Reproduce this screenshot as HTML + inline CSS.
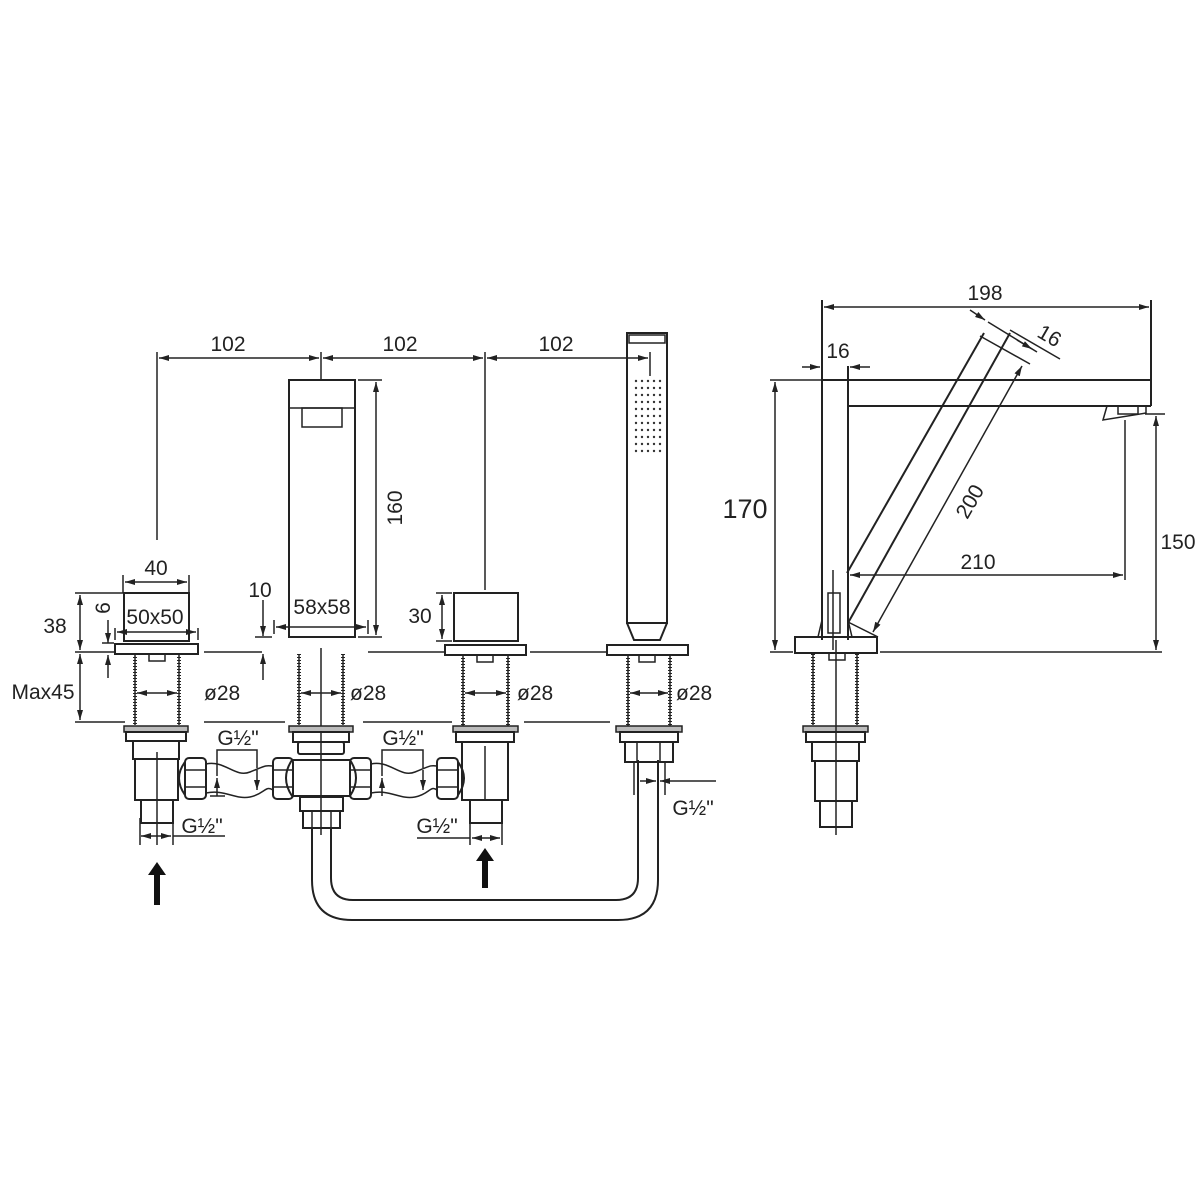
<!DOCTYPE html>
<html><head><meta charset="utf-8"><style>
html,body{margin:0;padding:0;background:#fff;}
svg{display:block;}
text{font-family:"Liberation Sans",Arial,sans-serif;fill:#222;}
</style></head><body>
<svg width="1200" height="1200" viewBox="0 0 1200 1200" xmlns="http://www.w3.org/2000/svg">
<defs>
<marker id="a" viewBox="0 0 10 6" refX="10" refY="3" markerWidth="16" markerHeight="6" markerUnits="userSpaceOnUse" orient="auto-start-reverse"><path d="M0,0 L10,3 L0,6 Z" fill="#222"/></marker>
<g id="thread">
<line x1="0" y1="0" x2="0" y2="71" stroke="#222" stroke-width="1.5"/>
<line x1="0" y1="0" x2="0" y2="71" stroke="#222" stroke-width="4" stroke-dasharray="1 2"/>
</g>
</defs>
<g fill="none" stroke="#222" stroke-width="2">

<line x1="157" y1="352" x2="157" y2="540" stroke-width="1.5"/>
<line x1="321" y1="352" x2="321" y2="380" stroke-width="1.5"/>
<line x1="485" y1="352" x2="485" y2="590" stroke-width="1.5"/>
<line x1="650" y1="352" x2="650" y2="376" stroke-width="1.5"/>
<line x1="159" y1="358" x2="319" y2="358" stroke-width="1.5" marker-start="url(#a)" marker-end="url(#a)"/>
<line x1="323" y1="358" x2="483" y2="358" stroke-width="1.5" marker-start="url(#a)" marker-end="url(#a)"/>
<line x1="487" y1="358" x2="648" y2="358" stroke-width="1.5" marker-start="url(#a)" marker-end="url(#a)"/>

<rect x="289" y="380" width="66" height="257"/>
<line x1="289" y1="408" x2="355" y2="408" stroke-width="1.5"/>
<rect x="302" y="408" width="40" height="19" stroke-width="1.5"/>
<line x1="358" y1="380" x2="382" y2="380" stroke-width="1.5"/>
<line x1="358" y1="637" x2="382" y2="637" stroke-width="1.5"/>
<line x1="376" y1="382" x2="376" y2="635" stroke-width="1.5" marker-start="url(#a)" marker-end="url(#a)"/>
<line x1="276" y1="627" x2="366" y2="627" stroke-width="1.5" marker-start="url(#a)" marker-end="url(#a)"/>
<line x1="274" y1="620" x2="274" y2="634" stroke-width="1.5"/>
<line x1="368" y1="620" x2="368" y2="634" stroke-width="1.5"/>
<line x1="263" y1="600" x2="263" y2="636" stroke-width="1.5" marker-end="url(#a)"/>
<line x1="263" y1="680" x2="263" y2="654" stroke-width="1.5" marker-end="url(#a)"/>
<line x1="255" y1="637" x2="272" y2="637" stroke-width="1.5"/>

<rect x="627" y="333" width="40" height="290"/>
<rect x="629" y="335" width="36" height="8" stroke-width="1.5"/>
<path d="M627,623 L634,640 L660,640 L667,623"/>

<rect x="124" y="593" width="65" height="48"/>
<rect x="115" y="644" width="83" height="10"/>
<rect x="149" y="654" width="16" height="7" stroke-width="1.5"/>
<use href="#thread" x="135" y="654"/><use href="#thread" x="179" y="654"/>
<rect x="124" y="726" width="64" height="6" stroke-width="1.5" fill="#bbb"/>
<rect x="126" y="732" width="60" height="9"/>
<rect x="133" y="741" width="46" height="18"/>
<rect x="135" y="759" width="43" height="41"/>
<rect x="141" y="800" width="32" height="23"/>
<line x1="157" y1="752" x2="157" y2="845" stroke-width="1.5"/>
<line x1="140" y1="818" x2="140" y2="845" stroke-width="1.5"/>
<line x1="173" y1="818" x2="173" y2="845" stroke-width="1.5"/>
<line x1="141" y1="836" x2="171" y2="836" stroke-width="1.5" marker-start="url(#a)" marker-end="url(#a)"/>
<line x1="173" y1="836" x2="225" y2="836" stroke-width="1.5"/>
<line x1="137" y1="693" x2="177" y2="693" stroke-width="1.5" marker-start="url(#a)" marker-end="url(#a)"/>
<line x1="123" y1="575" x2="123" y2="593" stroke-width="1.5"/>
<line x1="189" y1="575" x2="189" y2="593" stroke-width="1.5"/>
<line x1="125" y1="582" x2="187" y2="582" stroke-width="1.5" marker-start="url(#a)" marker-end="url(#a)"/>
<line x1="115" y1="628" x2="115" y2="640" stroke-width="1.5"/>
<line x1="198" y1="628" x2="198" y2="640" stroke-width="1.5"/>
<line x1="117" y1="632" x2="196" y2="632" stroke-width="1.5" marker-start="url(#a)" marker-end="url(#a)"/>
<line x1="75" y1="593" x2="123" y2="593" stroke-width="1.5"/>
<line x1="75" y1="652" x2="115" y2="652" stroke-width="1.5"/>
<line x1="75" y1="722" x2="125" y2="722" stroke-width="1.5"/>
<line x1="80" y1="595" x2="80" y2="650" stroke-width="1.5" marker-start="url(#a)" marker-end="url(#a)"/>
<line x1="80" y1="654" x2="80" y2="720" stroke-width="1.5" marker-start="url(#a)" marker-end="url(#a)"/>
<line x1="108" y1="620" x2="108" y2="643" stroke-width="1.5" marker-end="url(#a)"/>
<line x1="108" y1="678" x2="108" y2="655" stroke-width="1.5" marker-end="url(#a)"/>
<line x1="102" y1="643" x2="114" y2="643" stroke-width="1.5"/>

<line x1="204" y1="652" x2="262" y2="652" stroke-width="1.5"/>
<line x1="368" y1="652" x2="445" y2="652" stroke-width="1.5"/>
<line x1="530" y1="652" x2="607" y2="652" stroke-width="1.5"/>
<line x1="204" y1="722" x2="285" y2="722" stroke-width="1.5"/>
<line x1="363" y1="722" x2="452" y2="722" stroke-width="1.5"/>
<line x1="524" y1="722" x2="610" y2="722" stroke-width="1.5"/>

<use href="#thread" x="299" y="654"/><use href="#thread" x="343" y="654"/>
<line x1="321" y1="648" x2="321" y2="835" stroke-width="1.5"/>
<line x1="301" y1="693" x2="341" y2="693" stroke-width="1.5" marker-start="url(#a)" marker-end="url(#a)"/>
<rect x="289" y="726" width="64" height="6" stroke-width="1.5" fill="#bbb"/>
<rect x="293" y="732" width="56" height="10"/>
<rect x="298" y="742" width="46" height="12" rx="2"/>
<path d="M292,760 Q280,778 292,796 L350,796 Q362,778 350,760 Z"/>
<line x1="292" y1="760" x2="350" y2="760"/>
<rect x="300" y="797" width="43" height="14"/>
<rect x="303" y="811" width="37" height="17"/>
<line x1="312" y1="811" x2="312" y2="828" stroke-width="1.5"/><line x1="331" y1="811" x2="331" y2="828" stroke-width="1.5"/>
<rect x="185" y="758" width="21" height="41" rx="4"/>
<line x1="185" y1="770" x2="206" y2="770" stroke-width="1.5"/><line x1="185" y1="787" x2="206" y2="787" stroke-width="1.5"/>
<path d="M185,762 Q173,778 185,795"/>
<rect x="273" y="758" width="20" height="41" rx="4"/>
<line x1="273" y1="770" x2="293" y2="770" stroke-width="1.5"/><line x1="273" y1="787" x2="293" y2="787" stroke-width="1.5"/>
<rect x="350" y="758" width="21" height="41" rx="4"/>
<line x1="350" y1="770" x2="371" y2="770" stroke-width="1.5"/><line x1="350" y1="787" x2="371" y2="787" stroke-width="1.5"/>
<rect x="437" y="758" width="21" height="41" rx="4"/>
<line x1="437" y1="770" x2="458" y2="770" stroke-width="1.5"/><line x1="437" y1="787" x2="458" y2="787" stroke-width="1.5"/>
<path d="M458,762 Q470,778 458,795"/>
<path d="M206,764 C225,760 235,778 250,772 S265,765 273,766" stroke-width="1.5"/>
<path d="M206,793 C225,789 235,800 250,797 S265,785 273,790" stroke-width="1.5"/>
<path d="M371,764 C390,760 400,778 415,772 S430,765 437,766" stroke-width="1.5"/>
<path d="M371,793 C390,789 400,800 415,797 S430,785 437,790" stroke-width="1.5"/>
<path d="M217,776 L217,750 L257,750 L257,768" stroke-width="1.5"/>
<line x1="217" y1="778" x2="217" y2="796" stroke-width="1.5" marker-start="url(#a)"/>
<line x1="257" y1="770" x2="257" y2="790" stroke-width="1.5" marker-end="url(#a)"/>
<line x1="210" y1="796" x2="225" y2="796" stroke-width="1.5"/>
<path d="M382,776 L382,750 L423,750 L423,768" stroke-width="1.5"/>
<line x1="382" y1="778" x2="382" y2="796" stroke-width="1.5" marker-start="url(#a)"/>
<line x1="423" y1="770" x2="423" y2="790" stroke-width="1.5" marker-end="url(#a)"/>

<path d="M312,828 L312,880 Q312,920 352,920 L618,920 Q658,920 658,880 L658,760"/>
<path d="M331,828 L331,878 Q331,900 353,900 L616,900 Q638,900 638,878 L638,760"/>

<rect x="454" y="593" width="64" height="48"/>
<rect x="445" y="645" width="81" height="10"/>
<rect x="477" y="655" width="16" height="7" stroke-width="1.5"/>
<use href="#thread" x="463" y="655"/><use href="#thread" x="508" y="655"/>
<line x1="465" y1="693" x2="506" y2="693" stroke-width="1.5" marker-start="url(#a)" marker-end="url(#a)"/>
<line x1="436" y1="593" x2="452" y2="593" stroke-width="1.5"/>
<line x1="436" y1="641" x2="452" y2="641" stroke-width="1.5"/>
<line x1="442" y1="595" x2="442" y2="639" stroke-width="1.5" marker-start="url(#a)" marker-end="url(#a)"/>
<rect x="453" y="726" width="65" height="6" stroke-width="1.5" fill="#bbb"/>
<rect x="456" y="732" width="58" height="10"/>
<rect x="462" y="742" width="46" height="58"/>
<line x1="485" y1="746" x2="485" y2="800" stroke-width="1.5"/>
<rect x="470" y="800" width="32" height="23"/>
<line x1="470" y1="818" x2="470" y2="845" stroke-width="1.5"/>
<line x1="502" y1="818" x2="502" y2="845" stroke-width="1.5"/>
<line x1="417" y1="838" x2="470" y2="838" stroke-width="1.5"/>
<line x1="472" y1="838" x2="500" y2="838" stroke-width="1.5" marker-start="url(#a)" marker-end="url(#a)"/>

<rect x="607" y="645" width="81" height="10"/>
<rect x="639" y="655" width="16" height="7" stroke-width="1.5"/>
<use href="#thread" x="628" y="655"/><use href="#thread" x="670" y="655"/>
<line x1="630" y1="693" x2="668" y2="693" stroke-width="1.5" marker-start="url(#a)" marker-end="url(#a)"/>
<rect x="616" y="726" width="66" height="6" stroke-width="1.5" fill="#bbb"/>
<rect x="620" y="732" width="58" height="10"/>
<rect x="625" y="742" width="48" height="20"/>
<line x1="637" y1="742" x2="637" y2="762" stroke-width="1.5"/><line x1="660" y1="742" x2="660" y2="762" stroke-width="1.5"/>
<line x1="634" y1="762" x2="634" y2="795" stroke-width="1.5"/>
<line x1="665" y1="762" x2="665" y2="795" stroke-width="1.5"/>
<line x1="640" y1="781" x2="656" y2="781" stroke-width="1.5" marker-end="url(#a)"/>
<line x1="716" y1="781" x2="660" y2="781" stroke-width="1.5" marker-end="url(#a)"/>

<line x1="822" y1="300" x2="822" y2="640"/>
<line x1="848" y1="366" x2="848" y2="640"/>
<line x1="848" y1="380" x2="1151" y2="380"/>
<line x1="848" y1="406" x2="1151" y2="406"/>
<line x1="1151" y1="300" x2="1151" y2="406"/>
<line x1="822" y1="380" x2="848" y2="380"/>
<path d="M1107,406 L1103,420 L1146,413 L1146,406" stroke-width="1.5"/>
<rect x="1118" y="406" width="20" height="8" stroke-width="1.5"/>
<line x1="824" y1="307" x2="1149" y2="307" stroke-width="1.5" marker-start="url(#a)" marker-end="url(#a)"/>
<line x1="802" y1="367" x2="820" y2="367" stroke-width="1.5" marker-end="url(#a)"/>
<line x1="870" y1="367" x2="850" y2="367" stroke-width="1.5" marker-end="url(#a)"/>
<line x1="984" y1="333" x2="847" y2="573"/>
<line x1="1010" y1="333" x2="848" y2="623"/>
<line x1="1022" y1="366" x2="873" y2="632" stroke-width="1.5" marker-start="url(#a)" marker-end="url(#a)"/>
<line x1="988" y1="322" x2="1037" y2="352" stroke-width="1.5"/>
<line x1="980" y1="336" x2="1030" y2="364" stroke-width="1.5"/>
<line x1="1010" y1="330" x2="1060" y2="359" stroke-width="1.5"/>
<line x1="970" y1="310" x2="985" y2="320" stroke-width="1.5" marker-end="url(#a)"/>
<line x1="1032" y1="349" x2="1017" y2="340" stroke-width="1.5" marker-start="url(#a)"/>
<line x1="833" y1="570" x2="833" y2="650" stroke-width="1.5"/>
<line x1="850" y1="575" x2="1123" y2="575" stroke-width="1.5" marker-start="url(#a)" marker-end="url(#a)"/>
<line x1="1125" y1="420" x2="1125" y2="580" stroke-width="1.5"/>
<rect x="828" y="593" width="12" height="40" stroke-width="1.5"/>
<path d="M822,620 L818,637 M848,620 L852,637 M848,622 L878,637" stroke-width="1.5"/>
<rect x="795" y="637" width="82" height="16"/>
<line x1="880" y1="652" x2="1162" y2="652" stroke-width="1.5"/>
<line x1="770" y1="380" x2="822" y2="380" stroke-width="1.5"/>
<line x1="770" y1="652" x2="793" y2="652" stroke-width="1.5"/>
<line x1="775" y1="382" x2="775" y2="650" stroke-width="1.5" marker-start="url(#a)" marker-end="url(#a)"/>
<line x1="1145" y1="414" x2="1165" y2="414" stroke-width="1.5"/>
<line x1="1156" y1="416" x2="1156" y2="650" stroke-width="1.5" marker-start="url(#a)" marker-end="url(#a)"/>
<rect x="829" y="653" width="16" height="7" stroke-width="1.5"/>
<use href="#thread" x="813" y="654"/><use href="#thread" x="857" y="654"/>
<rect x="803" y="726" width="65" height="6" stroke-width="1.5" fill="#bbb"/>
<rect x="806" y="732" width="59" height="10"/>
<rect x="812" y="742" width="47" height="19"/>
<rect x="815" y="761" width="42" height="40"/>
<rect x="820" y="801" width="32" height="26"/>
<line x1="836" y1="640" x2="836" y2="835" stroke-width="1.5"/>
</g>
<g fill="#333">
<g id="row"><circle cx="636" cy="381" r="1.2"/><circle cx="642" cy="381" r="1.2"/><circle cx="648" cy="381" r="1.2"/><circle cx="654" cy="381" r="1.2"/><circle cx="660" cy="381" r="1.2"/></g>
<use href="#row" y="7"/><use href="#row" y="14"/><use href="#row" y="21"/><use href="#row" y="28"/><use href="#row" y="35"/><use href="#row" y="42"/><use href="#row" y="49"/><use href="#row" y="56"/><use href="#row" y="63"/><use href="#row" y="70"/>
</g>
<path d="M157,862 L148,875 L154,875 L154,905 L160,905 L160,875 L166,875 Z" fill="#111"/>
<path d="M485,848 L476,861 L482,861 L482,888 L488,888 L488,861 L494,861 Z" fill="#111"/>

<g font-size="21">
<text x="228" y="351" text-anchor="middle">102</text>
<text x="400" y="351" text-anchor="middle">102</text>
<text x="556" y="351" text-anchor="middle">102</text>
<text x="156" y="575" text-anchor="middle">40</text>
<text x="155" y="624" text-anchor="middle">50x50</text>
<text x="55" y="633" text-anchor="middle">38</text>
<text x="43" y="699" text-anchor="middle">Max45</text>
<text x="260" y="597" text-anchor="middle">10</text>
<text x="322" y="614" text-anchor="middle">58x58</text>
<text x="420" y="623" text-anchor="middle">30</text>
<text x="204" y="700">ø28</text>
<text x="350" y="700">ø28</text>
<text x="517" y="700">ø28</text>
<text x="676" y="700">ø28</text>
<text x="238" y="745" text-anchor="middle">G½"</text>
<text x="403" y="745" text-anchor="middle">G½"</text>
<text x="202" y="833" text-anchor="middle">G½"</text>
<text x="437" y="833" text-anchor="middle">G½"</text>
<text x="693" y="815" text-anchor="middle">G½"</text>
<text x="985" y="300" text-anchor="middle">198</text>
<text x="838" y="358" text-anchor="middle">16</text>
<text x="978" y="569" text-anchor="middle">210</text>
<text x="1178" y="549" text-anchor="middle">150</text>
<text transform="translate(402,508) rotate(-90)" text-anchor="middle">160</text>
<text transform="translate(110,608) rotate(-90)" text-anchor="middle">6</text>
<text transform="translate(976,505) rotate(-60)" text-anchor="middle">200</text>
<text transform="translate(1046,342) rotate(30)" text-anchor="middle">16</text>
</g>
<text x="745" y="518" font-size="27" text-anchor="middle">170</text>
</svg>
</body></html>
